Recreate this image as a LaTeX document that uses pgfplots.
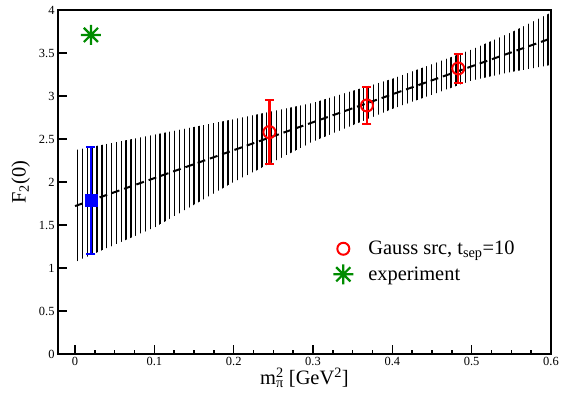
\documentclass[border=0pt]{standalone}
\usepackage{fontspec}
\setmainfont{Liberation Serif}
\usepackage{pgfplots}
\usepackage{pgfplotstable}
\pgfplotsset{compat=1.18}
\usetikzlibrary{patterns.meta}

% eight-armed asterisk
\pgfdeclareplotmark{asterisk8}{%
  \pgfpathmoveto{\pgfpoint{0pt}{\pgfplotmarksize}}%
  \pgfpathlineto{\pgfpoint{0pt}{-\pgfplotmarksize}}%
  \pgfpathmoveto{\pgfpoint{\pgfplotmarksize}{0pt}}%
  \pgfpathlineto{\pgfpoint{-\pgfplotmarksize}{0pt}}%
  \pgfpathmoveto{\pgfpoint{0.7071\pgfplotmarksize}{0.7071\pgfplotmarksize}}%
  \pgfpathlineto{\pgfpoint{-0.7071\pgfplotmarksize}{-0.7071\pgfplotmarksize}}%
  \pgfpathmoveto{\pgfpoint{0.7071\pgfplotmarksize}{-0.7071\pgfplotmarksize}}%
  \pgfpathlineto{\pgfpoint{-0.7071\pgfplotmarksize}{0.7071\pgfplotmarksize}}%
  \pgfusepathqstroke}

% error band of the linear fit: upper edge left to right, lower edge back
\pgfplotstableread{
x     y
0     2.37
0.1   2.55
0.2   2.73
0.3   2.92
0.4   3.20
0.5   3.54
0.55  3.74
0.6   3.97
0.6   3.36
0.55  3.28
0.5   3.18
0.4   2.85
0.3   2.47
0.2   2.00
0.1   1.47
0     1.07
}\bandtable

\begin{document}
\begin{tikzpicture}
\path[use as bounding box] (-58bp,-51bp) rectangle (503bp,354bp);
\begin{axis}[
  at={(0,0)}, anchor=south west,
  scale only axis, width=493bp, height=344bp,
  xmin=-0.0215, xmax=0.6, ymin=0, ymax=4,
  xtick={0,0.1,0.2,0.3,0.4,0.5,0.6},
  ytick={0,0.5,1,1.5,2,2.5,3,3.5,4},
  minor x tick num=3,
  tick pos=left, tick align=inside,
  major tick length=9bp, minor tick length=4.5bp,
  every tick/.style={black, line width=1.5bp},
  axis line style={line width=2bp},
  /pgf/number format/assume math mode=true,
  tick label style={font=\fontsize{12.5}{14}\selectfont},
  label style={font=\fontsize{20.5}{24}\selectfont},
  xlabel={m\rlap{\textsuperscript{2}}\textsubscript{π} [GeV\textsuperscript{2}]},
  ylabel={F\textsubscript{2}(0)},
  xlabel shift=-5bp, ylabel shift=2bp,
  legend style={draw=none, fill=none, font=\fontsize{20.5}{24}\selectfont,
    at={(0.552,0.34)}, anchor=north west, row sep=6bp,
    /tikz/every odd column/.append style={column sep=13bp}},
  legend cell align=left,
]
\addplot[draw=none, forget plot,
  pattern={Lines[angle=90, distance=4.85bp, line width=1.3bp]}, pattern color=black]
  table[x=x, y=y] {\bandtable} \closedcycle;

% linear fit
\addplot[black, line width=2bp, dash pattern=on 8bp off 5bp, forget plot]
  coordinates {(0,1.72) (0.6,3.67)};

% extrapolated value
\addplot[blue, only marks, mark=square*, mark size=6bp, forget plot,
  error bars/.cd, y dir=both, y explicit,
  error bar style={line width=2bp},
  error mark options={rotate=90, mark size=4.5bp, line width=2bp}]
  coordinates {(0.02,1.785) +- (0,0.625)};

% lattice data
\addplot[red, only marks, mark=o, mark size=6bp, line width=2bp,
  error bars/.cd, y dir=both, y explicit,
  error bar style={line width=2.2bp},
  error mark options={rotate=90, mark size=4.5bp, line width=2bp}]
  coordinates {
    (0.245,2.58) +- (0,0.37)
    (0.368,2.89) +- (0,0.22)
    (0.483,3.32) +- (0,0.17)
  };
\addlegendentry{Gauss src, t\textsubscript{sep}=10}

% experimental value
\addplot[green!55!black, only marks, mark=asterisk8, mark size=10bp, line width=2.2bp]
  coordinates {(0.02,3.71)};
\addlegendentry{experiment}
\end{axis}
\end{tikzpicture}
\end{document}
